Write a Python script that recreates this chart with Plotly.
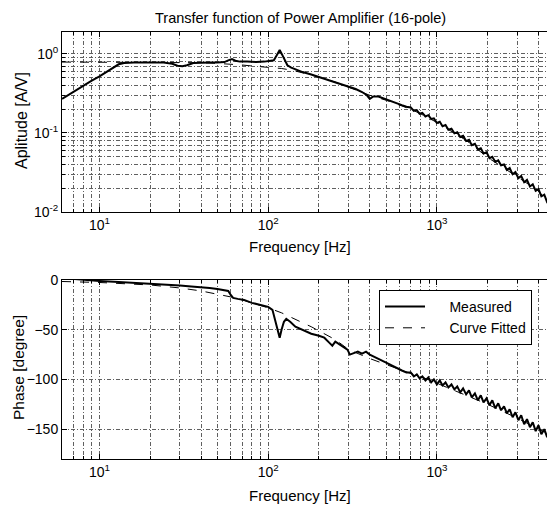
import plotly.graph_objects as go

# ---------------- data ----------------
freq_amp_meas = [6, 7, 8, 9, 10, 11, 12, 13, 14, 16, 20, 24, 27, 29, 31, 33, 36, 40, 45, 50,
                 55, 58, 61, 64, 68, 75, 85, 95, 103, 108, 112, 117, 121, 125, 130, 137, 145,
                 160, 180, 200, 220, 250, 280, 300, 330, 360, 385, 400, 420, 450, 480, 520,
                 560, 620, 660,
                 700, 730, 760, 790, 820, 855, 890, 925, 960, 1000, 1040, 1080, 1125, 1170,
                 1220, 1270, 1320, 1375, 1430, 1490, 1550, 1610, 1680, 1750, 1820, 1890, 1970,
                 2050, 2130, 2220, 2310, 2400, 2500, 2600, 2700, 2810, 2920, 3040, 3160, 3290,
                 3420, 3560, 3700, 3850, 4000, 4160, 4330, 4500, 4680, 4870, 5000]
amp_meas = [0.27, 0.33, 0.40, 0.46, 0.52, 0.59, 0.66, 0.74, 0.77, 0.78, 0.78, 0.78, 0.75, 0.71,
            0.70, 0.72, 0.77, 0.78, 0.78, 0.78,
            0.79, 0.83, 0.86, 0.82, 0.80, 0.80, 0.79, 0.80, 0.81, 0.83, 0.95, 1.12, 0.98, 0.85,
            0.72, 0.67, 0.64,
            0.59, 0.55, 0.51, 0.48, 0.44, 0.41, 0.385, 0.36, 0.33, 0.30, 0.27, 0.29, 0.29, 0.275,
            0.255, 0.245, 0.225, 0.215,
            0.21, 0.19, 0.195, 0.175, 0.18, 0.162, 0.168, 0.150, 0.153, 0.134, 0.139, 0.122,
            0.126, 0.110, 0.113, 0.099, 0.102, 0.089, 0.092, 0.079, 0.082, 0.070, 0.073, 0.062,
            0.064, 0.055, 0.057, 0.048, 0.050, 0.043, 0.045, 0.039, 0.040, 0.034, 0.036, 0.030,
            0.032, 0.0268, 0.0285, 0.0238, 0.0255, 0.0210, 0.0224, 0.0185, 0.0195, 0.0158, 0.0166,
            0.0133, 0.0138, 0.0104, 0.0098]

freq_phase_meas = [6, 6.5, 7, 8, 10, 13, 17, 20, 25, 30, 35, 40, 45, 50, 55, 58, 60, 62, 66, 72,
                   80, 90, 100, 106, 110, 114, 117, 120, 124, 128, 135, 145, 160, 180, 200, 215,
                   230, 240, 250, 265, 280, 295, 305, 320, 340, 360, 380, 400, 430, 460, 500,
                   540, 580, 620, 660,
                   700, 730, 760, 790, 820, 855, 890, 925, 960, 1000, 1040, 1080, 1125, 1170,
                   1220, 1270, 1320, 1375, 1430, 1490, 1550, 1610, 1680, 1750, 1820, 1890, 1970,
                   2050, 2130, 2220, 2310, 2400, 2500, 2600, 2700, 2810, 2920, 3040, 3160, 3290,
                   3420, 3560, 3700, 3850, 4000, 4160, 4330, 4500, 4680, 4870, 5000]
phase_meas = [2, 1.5, 1, 0, -1, -2, -3, -3.5, -4.5, -5.5, -6.5, -7, -8, -9, -10, -11, -15, -18,
              -19, -20,
              -23, -25, -27, -30, -40, -52, -58, -50, -42, -39, -42, -47, -50, -54, -56, -58,
              -63, -66, -62, -65, -67, -70, -75, -74, -72, -74, -72, -75, -78, -80, -83,
              -86, -89, -91, -93,
              -93, -97, -95, -99, -97, -101, -98, -103, -100, -105, -101, -106, -103, -108,
              -105, -110, -107, -113, -109, -115, -111, -118, -114, -121, -116, -123, -119,
              -126, -121, -129, -124, -131, -127, -134, -130, -138, -133, -141, -136, -145,
              -140, -148, -143, -152, -146, -155, -150, -158, -153, -162, -157]

freq_fit = [6, 10, 20, 30, 40, 50, 60, 70, 80, 90, 100, 120, 140, 160, 180, 200, 250, 300,
            400, 500, 600, 700, 800, 1000, 1500, 2000, 3000, 4000, 5000]
amp_fit = [0.79, 0.79, 0.785, 0.78, 0.775, 0.76, 0.745, 0.725, 0.705, 0.69, 0.675, 0.655, 0.62,
           0.58, 0.54, 0.51, 0.44, 0.38, 0.30, 0.26, 0.226, 0.20, 0.175, 0.136, 0.080, 0.049,
           0.0278, 0.0185, 0.0105]
phase_fit = [-1.5, -2.5, -5, -8, -11, -14, -17, -20, -23, -25.5, -28, -33, -38, -43, -47, -51,
             -60, -70, -79, -85, -90, -94, -97, -104, -116, -125, -139, -150, -158]

amp_tickvals = [1, 0.1, 0.01]
amp_ticktext = ["10<sup>0</sup>", "10<sup>-1</sup>", "10<sup>-2</sup>"]
freq_tickvals = [10, 100, 1000]
freq_ticktext = ["10<sup>1</sup>", "10<sup>2</sup>", "10<sup>3</sup>"]
freq_minor = [6, 7, 8, 9, 20, 30, 40, 50, 60, 70, 80, 90, 200, 300, 400, 500, 600, 700, 800, 900,
              2000, 3000, 4000]
amp_minor = [0.02, 0.03, 0.04, 0.05, 0.06, 0.07, 0.08, 0.09, 0.2, 0.3, 0.4, 0.5, 0.6, 0.7, 0.8, 0.9]
phase_tickvals = [0, -50, -100, -150]

title_text = "Transfer function of Power Amplifier (16-pole)"

# ---------------- layout helpers (window pixels -> paper) ----------------
OFF = 8                      # default page margin around the plot div
W, H = 555 - OFF, 509 - OFF  # figure size so that it ends at the window edge
X0, X1 = 62, 555             # plot area left/right in window pixels
L = X0 - OFF


def px(x):
    return (x - X0) / (X1 - X0)


def py(y):
    return 1 - (y - OFF) / H


FONT = "Arial, Liberation Sans, Helvetica, sans-serif"
GRID = dict(showgrid=True, gridcolor="#606060", griddash="4px,2px,1px,2px", gridwidth=1)

fig = go.Figure()

fig.add_trace(go.Scatter(x=freq_amp_meas, y=amp_meas, mode="lines", xaxis="x", yaxis="y",
                         line=dict(color="black", width=2), showlegend=False))
fig.add_trace(go.Scatter(x=freq_fit, y=amp_fit, mode="lines", xaxis="x", yaxis="y",
                         line=dict(color="black", width=1, dash="dash"), showlegend=False))
fig.add_trace(go.Scatter(x=freq_phase_meas, y=phase_meas, mode="lines", xaxis="x2", yaxis="y2",
                         name="\u00a0\u00a0\u00a0\u00a0\u00a0Measured",
                         line=dict(color="black", width=2)))
fig.add_trace(go.Scatter(x=freq_fit, y=phase_fit, mode="lines", xaxis="x2", yaxis="y2",
                         name="\u00a0\u00a0\u00a0\u00a0\u00a0Curve Fitted",
                         line=dict(color="black", width=1, dash="dash")))

TICKFONT = dict(family=FONT, size=14, color="black")
xcommon = dict(type="log", range=[0.778, 3.70], showline=True, linecolor="black", linewidth=1,
               mirror="allticks", ticks="inside", ticklen=5, tickcolor="black",
               tickvals=freq_tickvals, ticktext=freq_ticktext, tickfont=TICKFONT,
               minor=dict(tickvals=freq_minor, ticks="inside", ticklen=3, tickcolor="black", **GRID),
               zeroline=False, automargin=False, domain=[0, 1], **GRID)

fig.update_layout(
    width=W, height=H,
    margin=dict(l=L, r=0, t=0, b=0),
    paper_bgcolor="white", plot_bgcolor="white",
    font=dict(family=FONT, size=14, color="black"),
    xaxis=dict(anchor="y", **xcommon),
    xaxis2=dict(anchor="y2", **xcommon),
    yaxis=dict(type="log", range=[-2, 0.278], domain=[py(212), py(32)], anchor="x",
               showline=True, linecolor="black", linewidth=1, mirror="allticks",
               ticks="inside", ticklen=5, tickcolor="black",
               tickvals=amp_tickvals, ticktext=amp_ticktext, tickfont=TICKFONT,
               minor=dict(tickvals=amp_minor, ticks="inside", ticklen=3, tickcolor="black", **GRID),
               zeroline=False, automargin=False, **GRID),
    yaxis2=dict(range=[-180, 0], domain=[py(459), py(280)], anchor="x2",
                showline=True, linecolor="black", linewidth=1, mirror="allticks",
                ticks="inside", ticklen=5, tickcolor="black",
                tickvals=phase_tickvals, tickfont=TICKFONT,
                zeroline=False, automargin=False, **GRID),
    legend=dict(x=px(379), y=py(290), xanchor="left", yanchor="top",
                bgcolor="white", bordercolor="black", borderwidth=1,
                font=dict(family=FONT, size=14, color="black"),
                tracegroupgap=0, itemwidth=40),
    showlegend=True,
)

ANN = dict(xref="paper", yref="paper", showarrow=False, xanchor="center", yanchor="middle")
fig.add_annotation(text=title_text, x=px(300), y=py(8), xref="paper", yref="paper",
                   showarrow=False, xanchor="center", yanchor="top",
                   font=dict(family=FONT, size=14.5, color="black"))
fig.add_annotation(text="Frequency [Hz]", x=px(300), y=py(246),
                   font=dict(family=FONT, size=15, color="black"), **ANN)
fig.add_annotation(text="Frequency [Hz]", x=px(300), y=py(495),
                   font=dict(family=FONT, size=15, color="black"), **ANN)
fig.add_annotation(text="Aplitude [A/V]", x=px(22), y=py(121), textangle=-90,
                   font=dict(family=FONT, size=16, color="black"), **ANN)
fig.add_annotation(text="Phase [degree]", x=px(18), y=py(368), textangle=-90,
                   font=dict(family=FONT, size=15.5, color="black"), **ANN)

fig.write_html("out.html")
